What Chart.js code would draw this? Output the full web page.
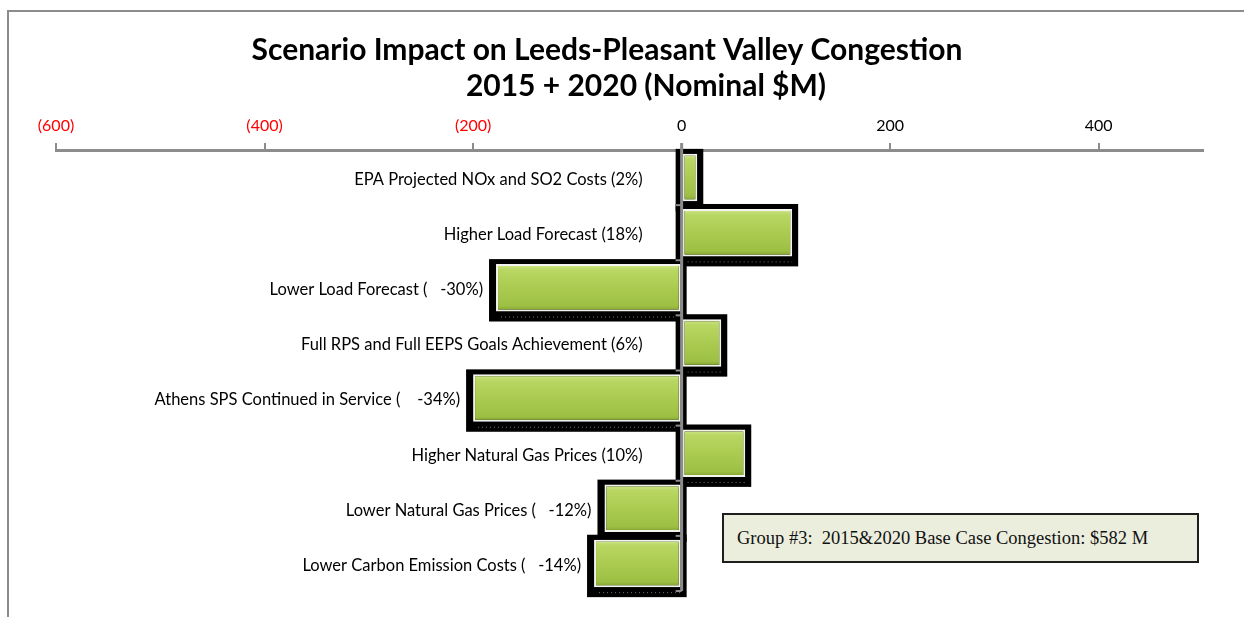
<!DOCTYPE html>
<html>
<head>
<meta charset="utf-8">
<script src="https://cdn.jsdelivr.net/npm/chart.js@4.4.1/dist/chart.umd.min.js"></script>
<style>
body { margin: 0; background: #fff; overflow: hidden; }
#frame { position: absolute; left: 7px; top: 10px; width: 2000px; height: 2000px; border-left: 2px solid #8c8c8c; border-top: 2px solid #8c8c8c; }
#wrap { position: absolute; left: 0; top: 0; width: 1244px; height: 617px; }
#note { position: absolute; left: 722px; top: 513px; width: 460px; height: 46px; border: 2px solid #1e1e1e; background: #ebeedd;
        font: 18.5px "Liberation Serif", "DejaVu Serif", serif; color: #111; line-height: 46px; padding-left: 13px; box-sizing: content-box; white-space: pre; }
</style>
</head>
<body>
<div id="frame"></div>
<div id="wrap"><canvas id="myChart" width="1244" height="617"></canvas></div>
<div id="note"></div>
<script>
var titleLines = ['Scenario Impact on Leeds-Pleasant Valley Congestion', '2015 + 2020 (Nominal $M)'];
var scenarios = [
    'EPA Projected NOx and SO2 Costs (2%)',
    'Higher Load Forecast (18%)',
    'Lower Load Forecast (   -30%)',
    'Full RPS and Full EEPS Goals Achievement (6%)',
    'Athens SPS Continued in Service (    -34%)',
    'Higher Natural Gas Prices (10%)',
    'Lower Natural Gas Prices (   -12%)',
    'Lower Carbon Emission Costs (   -14%)'
];
var impacts = [15, 106, -178, 38, -200, 61, -74, -84];
var tickValues = [-600, -400, -200, 0, 200, 400];
var baseCaseNote = 'Group #3:  2015&2020 Base Case Congestion: $582 M';

document.getElementById('note').textContent = baseCaseNote;

var axisGray = '#8c8c8c';
var barPct = 0.86;

function barGradient(context) {
    var chart = context.chart;
    var yScale = chart.scales.y;
    if (!yScale || !chart.chartArea) return '#a6c84c';
    var band = (chart.chartArea.bottom - chart.chartArea.top) / scenarios.length;
    var yc = yScale.getPixelForValue(context.dataIndex);
    var h = band * barPct;
    var g = chart.ctx.createLinearGradient(0, yc - h / 2, 0, yc + h / 2);
    g.addColorStop(0, '#d4e992');
    g.addColorStop(0.12, '#b9d763');
    g.addColorStop(0.5, '#aacb50');
    g.addColorStop(0.88, '#9dc044');
    g.addColorStop(1, '#7f9f2e');
    return g;
}

// black drop frame behind each bar
var shadowPlugin = {
    id: 'barShadow',
    beforeDatasetsDraw: function (chart) {
        var ctx = chart.ctx;
        var meta = chart.getDatasetMeta(0);
        ctx.save();
        meta.data.forEach(function (bar) {
            var p = bar.getProps(['x', 'y', 'base', 'height'], true);
            var left = Math.min(p.x, p.base) - 7;
            var right = Math.max(p.x, p.base) + 6;
            var top = p.y - p.height / 2 - 5;
            var bottom = p.y + p.height / 2 + 10;
            ctx.fillStyle = '#000';
            ctx.fillRect(left, top, right - left, bottom - top);
            ctx.strokeStyle = '#777';
            ctx.lineWidth = 1;
            ctx.setLineDash([1, 3]);
            ctx.beginPath();
            ctx.moveTo(left + 12, bottom - 4.5);
            ctx.lineTo(right - 6, bottom - 4.5);
            ctx.stroke();
        });
        ctx.restore();
    }
};

// vertical zero axis and category labels
var labelPlugin = {
    id: 'scenarioLabels',
    afterDatasetsDraw: function (chart) {
        var ctx = chart.ctx;
        var area = chart.chartArea;
        var x0 = chart.scales.x.getPixelForValue(0);
        var band = (area.bottom - area.top) / scenarios.length;
        ctx.save();
        ctx.strokeStyle = axisGray;
        ctx.lineWidth = 3;
        ctx.beginPath();
        ctx.moveTo(x0, area.top - 7);
        ctx.lineTo(x0, area.bottom);
        ctx.stroke();
        ctx.lineWidth = 2;
        for (var i = 1; i <= scenarios.length; i++) {
            var yy = area.top + i * band;
            ctx.beginPath();
            ctx.moveTo(x0 - 6, yy);
            ctx.lineTo(x0, yy);
            ctx.stroke();
        }
        var meta = chart.getDatasetMeta(0);
        ctx.fillStyle = '#000';
        ctx.font = '16.5px Lato, "Open Sans", sans-serif';
        ctx.textAlign = 'right';
        ctx.textBaseline = 'middle';
        meta.data.forEach(function (bar, i) {
            var p = bar.getProps(['x', 'y', 'base'], true);
            var xEnd = impacts[i] >= 0 ? p.base - 40 : p.x - 13;
            ctx.fillText(scenarios[i], xEnd, p.y + 2);
        });
        ctx.restore();
    }
};

var titlePlugin = {
    id: 'twoLineTitle',
    afterDraw: function (chart) {
        var ctx = chart.ctx;
        ctx.save();
        ctx.fillStyle = '#000';
        ctx.font = 'bold 30px Lato, "Open Sans", sans-serif';
        ctx.textAlign = 'center';
        ctx.textBaseline = 'middle';
        ctx.fillText(titleLines[0], 607, 50);
        ctx.fillText(titleLines[1], 646, 86);
        ctx.restore();
    }
};

var ctx = document.getElementById('myChart').getContext('2d');
var myChart = new Chart(ctx, {
    type: 'bar',
    data: {
        labels: scenarios,
        datasets: [{
            data: impacts,
            backgroundColor: barGradient,
            borderColor: '#f4f4ee',
            borderWidth: 2,
            borderSkipped: false,
            barPercentage: barPct,
            categoryPercentage: 1
        }]
    },
    options: {
        indexAxis: 'y',
        responsive: false,
        animation: false,
        events: [],
        layout: { padding: { left: 56, right: 41, top: 110, bottom: 26 } },
        plugins: {
            legend: { display: false },
            tooltip: { enabled: false },
            title: { display: false }
        },
        scales: {
            x: {
                position: 'top',
                min: -600,
                max: 500,
                afterBuildTicks: function (scale) {
                    scale.ticks = tickValues.map(function (v) { return { value: v }; });
                },
                afterFit: function (scale) { scale.height = 40; },
                grid: {
                    drawOnChartArea: false,
                    drawTicks: true,
                    tickLength: 7,
                    color: axisGray,
                    lineWidth: 2
                },
                border: { display: true, color: axisGray, width: 3 },
                ticks: {
                    padding: 8,
                    maxRotation: 0,
                    font: { family: 'Lato, "Open Sans", sans-serif', size: 16 },
                    color: function (c) { return c.tick && c.tick.value < 0 ? '#ff0000' : '#000'; },
                    callback: function (v) { return v < 0 ? '(' + Math.abs(v) + ')' : v; }
                }
            },
            y: {
                display: false,
                grid: { display: false }
            }
        }
    },
    plugins: [shadowPlugin, labelPlugin, titlePlugin]
});
</script>
</body>
</html>
